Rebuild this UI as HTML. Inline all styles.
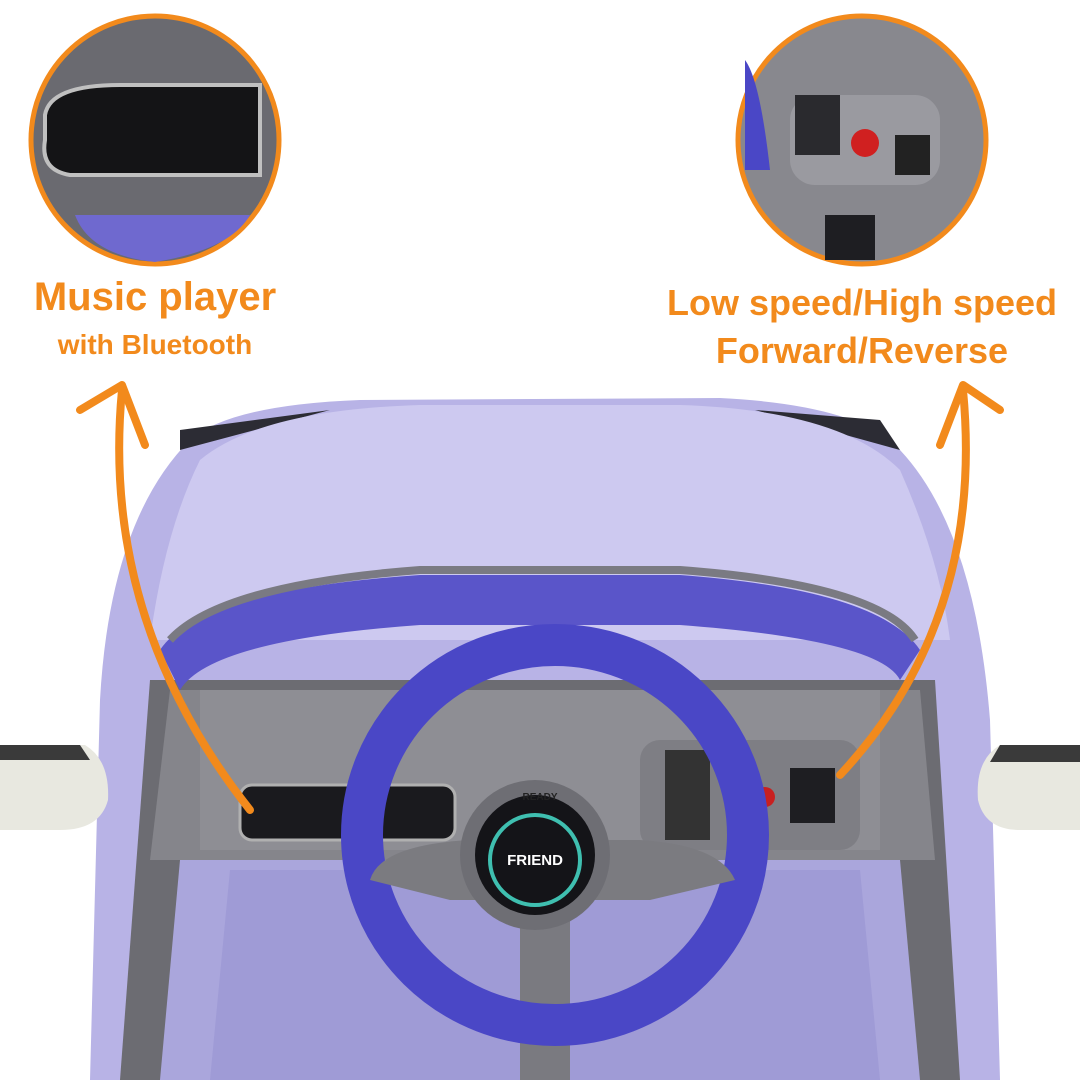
<!DOCTYPE html>
<html><head><meta charset="utf-8"><style>
html,body{margin:0;padding:0;background:#fff;}
svg{display:block}
text{font-family:"Liberation Sans",sans-serif;font-weight:bold;fill:#f28a1c}
</style></head><body>
<svg width="1080" height="1080" viewBox="0 0 1080 1080" xmlns="http://www.w3.org/2000/svg">
<rect width="1080" height="1080" fill="#fff"/>
<!-- car body -->
<path d="M90,1080 L100,700 Q110,520 190,440 Q230,405 360,400 L720,398 Q860,405 900,450 Q975,530 990,720 L1000,1080 Z" fill="#b8b3e6"/>
<path d="M180,450 L330,410 L180,430 Z" fill="#2c2c34"/>
<path d="M900,450 L755,410 L880,420 Z" fill="#2c2c34"/>
<path d="M200,460 Q260,410 420,405 L680,405 Q840,410 900,470 Q940,560 950,640 L150,640 Q165,530 200,460 Z" fill="#cdc9f0"/>
<!-- mirrors -->
<path d="M0,745 L85,745 Q110,760 108,800 Q100,830 60,830 L0,830 Z" fill="#e8e8e0"/>
<path d="M0,745 L80,745 L90,760 L0,760 Z" fill="#3a3a3a"/>
<path d="M1080,745 L1000,745 Q975,760 978,800 Q985,830 1020,830 L1080,830 Z" fill="#e8e8e0"/>
<path d="M1080,745 L1000,745 L990,762 L1080,762 Z" fill="#3a3a3a"/>
<!-- interior -->
<path d="M150,680 L935,680 L960,1080 L120,1080 Z" fill="#6c6c72"/>
<path d="M170,690 L920,690 L935,860 L150,860 Z" fill="#85858b"/>
<path d="M200,690 L880,690 L880,850 L200,850 Z" fill="#8e8e94"/>
<path d="M180,860 L900,860 L920,1080 L160,1080 Z" fill="#aaa6dc"/>
<path d="M230,870 L860,870 L880,1080 L210,1080 Z" fill="#9f9bd6"/>
<!-- windshield frame -->
<path d="M160,650 Q200,590 420,575 L680,575 Q880,590 920,650 L900,680 Q880,640 680,625 L420,625 Q210,640 180,690 Z" fill="#5a55c9"/>
<path d="M170,640 Q220,585 420,570 L680,570 Q880,585 915,640" fill="none" stroke="#7a7a82" stroke-width="8"/>
<!-- music panel -->
<rect x="240" y="785" width="215" height="55" rx="12" fill="#1a1a1e" stroke="#b0b0b0" stroke-width="3"/>
<!-- right panel -->
<rect x="640" y="740" width="220" height="110" rx="20" fill="#7e7e84"/>
<rect x="790" y="768" width="45" height="55" fill="#1e1e22"/>
<circle cx="765" cy="797" r="10" fill="#c82020"/>
<rect x="665" y="750" width="45" height="90" fill="#333"/>
<!-- steering column -->
<rect x="520" y="900" width="50" height="180" fill="#7a7a80"/>
<!-- wheel -->
<ellipse cx="555" cy="835" rx="193" ry="190" fill="none" stroke="#4a47c6" stroke-width="42"/>
<path d="M370,880 Q380,845 470,840 L640,840 Q720,845 735,880 L650,900 L450,900 Z" fill="#7b7b80"/>
<circle cx="535" cy="855" r="75" fill="#6e6e74"/>
<circle cx="535" cy="855" r="60" fill="#141418"/>
<circle cx="535" cy="860" r="45" fill="none" stroke="#3fbfb0" stroke-width="4"/>
<text x="535" y="865" text-anchor="middle" style="fill:#fff;font-size:15px">FRIEND</text>
<text x="540" y="800" text-anchor="middle" style="fill:#222;font-size:10px">READY</text>
<!-- circles -->
<circle cx="155" cy="140" r="124" fill="#6a6a70" stroke="#f28a1c" stroke-width="5"/>
<path d="M45,115 Q50,85 120,85 L260,85 L260,175 L70,175 Q40,170 45,140 Z" fill="#141416" stroke="#c0c0c0" stroke-width="4"/>
<path d="M75,215 L250,215 Q230,250 155,262 Q90,255 75,215 Z" fill="#6f69cf"/>
<circle cx="862" cy="140" r="124" fill="#88888e" stroke="#f28a1c" stroke-width="5"/>
<rect x="790" y="95" width="150" height="90" rx="25" fill="#9a9aa0"/>
<circle cx="865" cy="143" r="14" fill="#d02020"/>
<rect x="895" y="135" width="35" height="40" fill="#222"/>
<rect x="795" y="95" width="45" height="60" fill="#2a2a2e"/>
<path d="M745,60 Q760,80 770,170 L745,170 Z" fill="#4a47c6"/>
<rect x="825" y="215" width="50" height="45" fill="#1e1e22"/>
<!-- text -->
<text x="155" y="310" text-anchor="middle" style="font-size:40px">Music player</text>
<text x="155" y="354" text-anchor="middle" style="font-size:28px">with Bluetooth</text>
<text x="862" y="315" text-anchor="middle" style="font-size:36px">Low speed/High speed</text>
<text x="862" y="363" text-anchor="middle" style="font-size:36px">Forward/Reverse</text>
<!-- arrows -->
<path d="M122,390 Q100,620 250,810" fill="none" stroke="#f28a1c" stroke-width="8" stroke-linecap="round"/>
<path d="M80,410 L122,385 L145,445" fill="none" stroke="#f28a1c" stroke-width="8" stroke-linecap="round" stroke-linejoin="round"/>
<path d="M963,390 Q985,620 840,775" fill="none" stroke="#f28a1c" stroke-width="8" stroke-linecap="round"/>
<path d="M940,445 L963,385 L1000,410" fill="none" stroke="#f28a1c" stroke-width="8" stroke-linecap="round" stroke-linejoin="round"/>
</svg>
</body></html>
